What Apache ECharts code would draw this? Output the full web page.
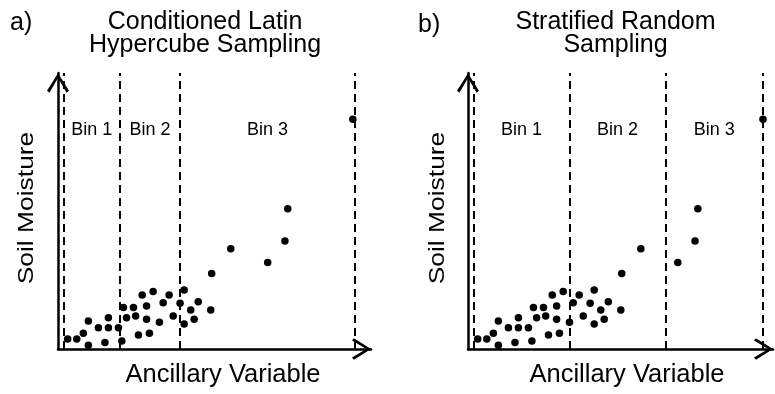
<!DOCTYPE html>
<html>
<head>
<meta charset="utf-8">
<script src="https://cdn.jsdelivr.net/npm/echarts@6/dist/echarts.min.js"></script>
<style>
html,body{margin:0;padding:0;background:#fff;}
#c{width:775px;height:394px;}
</style>
</head>
<body>
<div id="c"></div>
<script>
// ---- data (same sample points shown in both panels) ----
const ancillary = [3.1, 6.0, 8.1, 9.7, 9.7, 12.9, 15.0, 16.1, 16.1, 19.3, 20.4, 20.9, 21.9, 24.1, 24.8, 25.7, 26.9, 28.3, 28.3, 29.2, 30.4, 32.4, 33.6, 35.5, 36.8, 39.0, 40.3, 40.3, 42.4, 43.5, 44.8, 48.8, 49.1, 55.2, 67.0, 72.5, 73.4, 94.2];
const moisture  = [3.6, 3.6, 5.7, 1.4, 10.1, 7.7, 2.4, 7.7, 11.3, 7.7, 2.9, 15.0, 11.3, 15.0, 12.0, 5.1, 19.6, 15.6, 10.8, 5.7, 20.8, 9.7, 16.8, 19.6, 12.0, 16.6, 21.4, 9.1, 14.1, 10.8, 17.1, 14.1, 27.4, 36.3, 31.3, 39.1, 50.8, 83.2];
const binEdgesA = [1.8, 19.8, 39.0, 94.9];
const binEdgesB = [1.8, 32.4, 63.1, 94.2];
const binLabels = ['Bin 1', 'Bin 2', 'Bin 3'];
const panelLetters = ['a)', 'b)'];
const panelTitles = ['Conditioned Latin\nHypercube Sampling', 'Stratified Random\nSampling'];
const xAxisName = 'Ancillary Variable';
const yAxisName = 'Soil Moisture';
const xMaxA = 100, xMaxB = 97.4, yMax = 100;

const FONT = "'Liberation Sans', Arial, sans-serif";
const points = ancillary.map((x, i) => [x, moisture[i]]);
const chevron = 'path://M11,0 L22,17.5 L19.6,19.5 L11,4.8 L2.4,19.5 L0,17.5 Z';

function axisX(gi, max) {
  return {
    gridIndex: gi, type: 'value', min: 0, max: max,
    axisLine: { show: true, onZero: false, lineStyle: { color: '#000', width: 2.5 },
      symbol: ['none', chevron], symbolSize: [22, 19], symbolOffset: [0, -9.5] },
    axisTick: { show: false }, axisLabel: { show: false }, splitLine: { show: false }
  };
}
function axisY(gi) {
  return {
    gridIndex: gi, type: 'value', min: 0, max: yMax,
    axisLine: { show: true, onZero: false, lineStyle: { color: '#000', width: 2.5 },
      symbol: ['none', chevron], symbolSize: [22, 20], symbolOffset: [0, -10] },
    axisTick: { show: false }, axisLabel: { show: false }, splitLine: { show: false }
  };
}
function series(gi, edges) {
  const areas = [];
  for (let i = 0; i < binLabels.length; i++) {
    areas.push([{ xAxis: edges[i], name: binLabels[i] }, { xAxis: edges[i + 1] }]);
  }
  return {
    type: 'scatter', xAxisIndex: gi, yAxisIndex: gi, data: points,
    symbolSize: 7.5, itemStyle: { color: '#000', opacity: 1 }, silent: true,
    markLine: {
      silent: true, symbol: ['none', 'none'], label: { show: false },
      lineStyle: { color: '#000', width: 2, type: [8, 5] },
      data: edges.map(v => ({ xAxis: v }))
    },
    markArea: {
      silent: true, itemStyle: { color: 'rgba(0,0,0,0)' },
      label: { show: true, position: 'insideTop', distance: 48, color: '#000', fontSize: 18, fontFamily: FONT },
      data: areas
    }
  };
}

const chart = echarts.init(document.getElementById('c'), null, { renderer: 'canvas' });
const txt = (o) => Object.assign({ type: 'text', silent: true }, o);
chart.setOption({
  animation: false,
  backgroundColor: '#fff',
  grid: [
    { left: 58, top: 73, width: 313, height: 276 },
    { left: 468, top: 73, width: 305, height: 276 }
  ],
  xAxis: [axisX(0, xMaxA), axisX(1, xMaxB)],
  yAxis: [axisY(0), axisY(1)],
  series: [series(0, binEdgesA), series(1, binEdgesB)],
  graphic: [
    txt({ x: 10, y: 23, style: { text: panelLetters[0], fill: '#000', font: '25px ' + FONT, verticalAlign: 'middle' } }),
    txt({ x: 418, y: 25, style: { text: panelLetters[1], fill: '#000', font: '25px ' + FONT, verticalAlign: 'middle' } }),
    txt({ x: 205, y: 33.5, style: { text: panelTitles[0], fill: '#000', font: '25px ' + FONT, lineHeight: 23, align: 'center', verticalAlign: 'middle' } }),
    txt({ x: 615.5, y: 33.5, style: { text: panelTitles[1], fill: '#000', font: '25px ' + FONT, lineHeight: 23, align: 'center', verticalAlign: 'middle' } }),
    txt({ x: 223, y: 375, style: { text: xAxisName, fill: '#000', font: '25.5px ' + FONT, align: 'center', verticalAlign: 'middle' } }),
    txt({ x: 627, y: 375, style: { text: xAxisName, fill: '#000', font: '25.5px ' + FONT, align: 'center', verticalAlign: 'middle' } }),
    txt({ x: 27, y: 208, rotation: Math.PI / 2, scaleX: 1.2, style: { text: yAxisName, fill: '#000', font: '22px ' + FONT, align: 'center', verticalAlign: 'middle' } }),
    txt({ x: 438, y: 208, rotation: Math.PI / 2, scaleX: 1.2, style: { text: yAxisName, fill: '#000', font: '22px ' + FONT, align: 'center', verticalAlign: 'middle' } })
  ]
});
</script>
</body>
</html>
